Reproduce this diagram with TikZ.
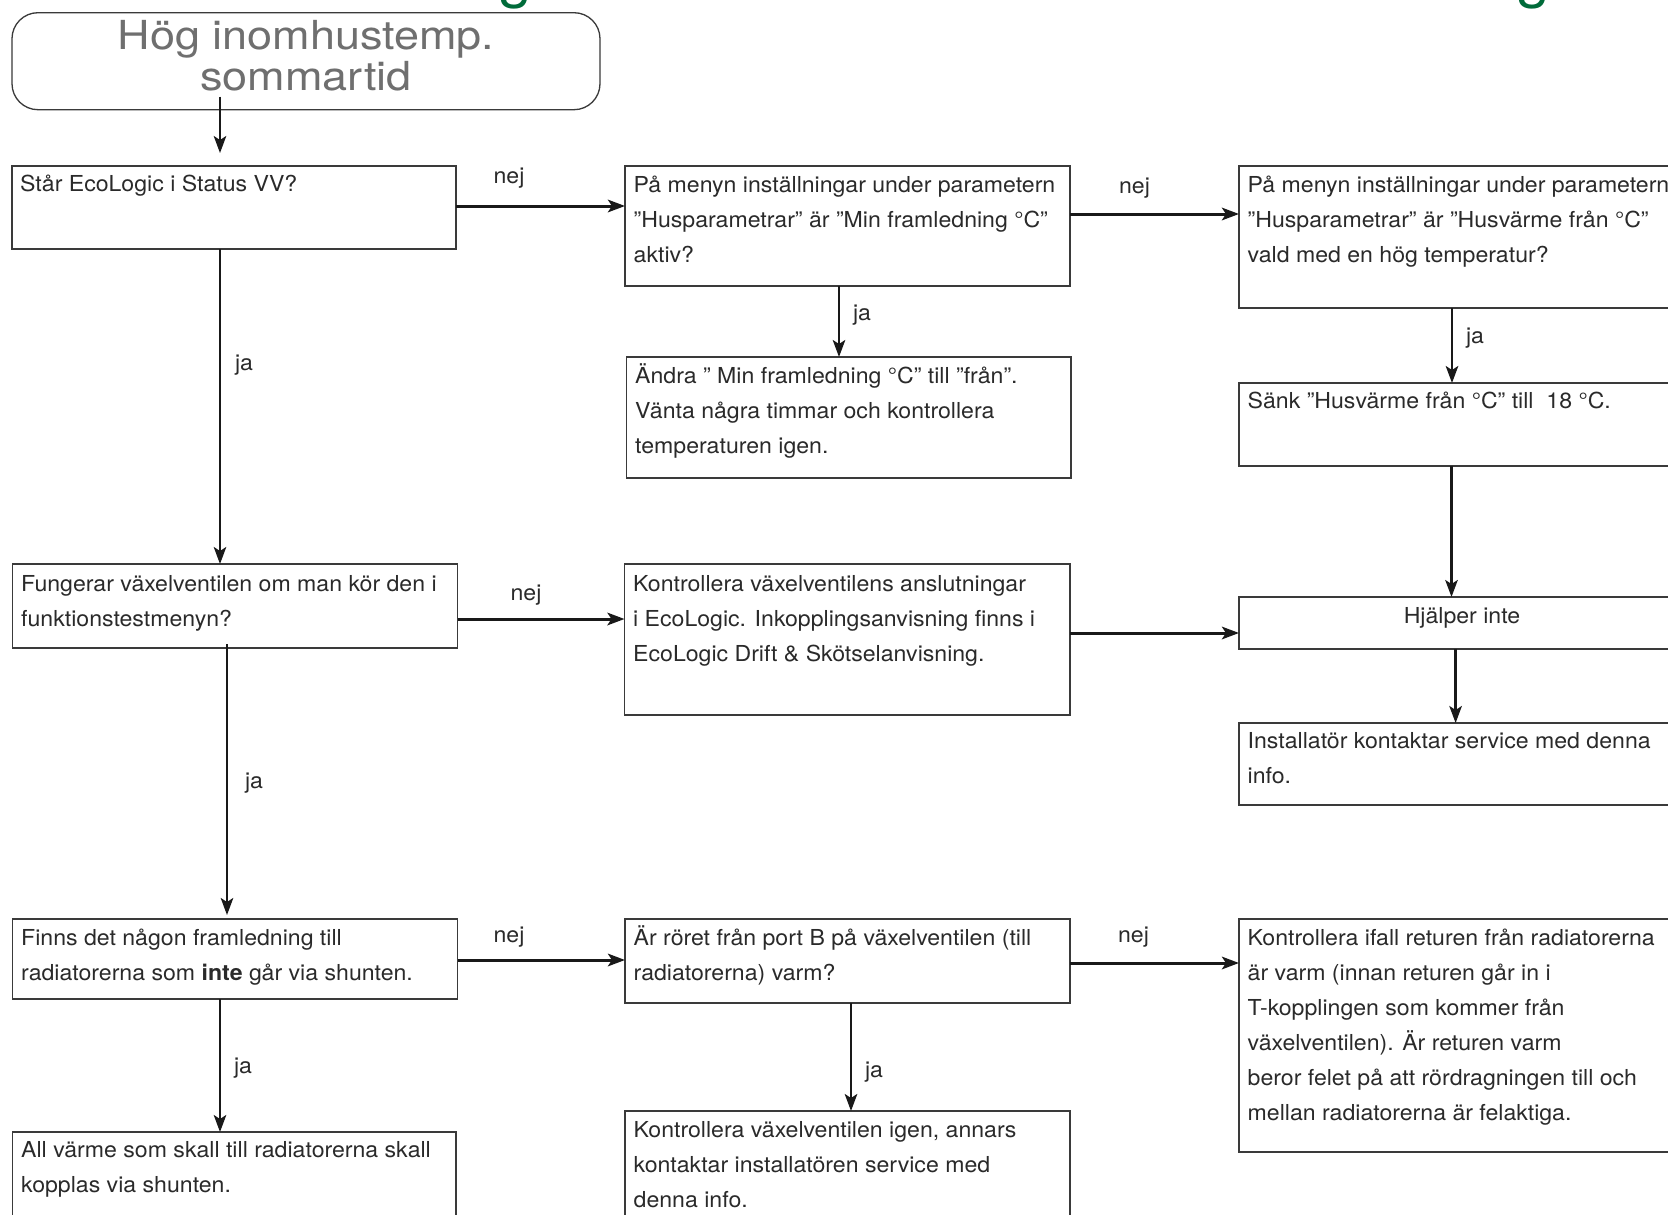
\documentclass[tikz,border=0pt]{standalone}
\usepackage{fontspec}
\setmainfont{TeX Gyre Heros}[FakeStretch=1.05]
\newfontfamily\headfont{TeX Gyre Heros}[FakeStretch=1.125]
\usetikzlibrary{arrows.meta}
\definecolor{boxline}{HTML}{3A3A3A}
\definecolor{txtcol}{HTML}{2A2A2A}
\definecolor{headgray}{HTML}{6F6F6F}
\definecolor{titlegreen}{HTML}{006B3A}
\newcommand{\lines}[1]{\begin{tabular}[t]{@{}l@{}}#1\end{tabular}}
\tikzset{
  box/.style={draw=boxline, line width=1.3pt, inner sep=0pt, outer sep=0pt, anchor=north west},
  txt/.style={anchor=base west, inner sep=0pt, text=txtcol, font=\fontsize{22}{35}\selectfont},
  lbl/.style={anchor=base, inner sep=0pt, text=txtcol, font=\fontsize{22}{35}\selectfont},
  conn/.style={draw=black!90, -{Stealth[length=17pt, width=12.5pt, inset=4pt]}},
  harrow/.style={conn, line width=3pt},
  varrow/.style={conn, line width=2.3pt},
  headtxt/.style={text=headgray, inner sep=0pt, anchor=base, font=\headfont\fontsize{40}{44}\selectfont},
  titletxt/.style={text=titlegreen, inner sep=0pt, anchor=base, font=\fontsize{58}{60}\selectfont},
}
\begin{document}
\begin{tikzpicture}[x=1pt, y=-1pt]
\useasboundingbox (0,0) rectangle (1668,1215);
\clip (0,0) rectangle (1668,1215);
\fill[white] (0,0) rectangle (1668,1215);

% heading letters above the page edge
\node[titletxt] (g1) at (515,-3) {g};
\node[titletxt] (g2) at (1533,-3) {g};

% start box
\node[box, rounded corners=26pt, minimum width=588pt, minimum height=97pt] (S) at (12,12.7) {};
\node[headtxt] (S1) at (306,49.5) {Hög inomhustemp.};
\node[headtxt] (S2) at (306,90.5) {sommartid};

% boxes
\node[box, minimum width=444pt, minimum height=83pt]   (A) at (12,166) {};
\node[box, minimum width=445pt, minimum height=120pt]  (B) at (625,166) {};
\node[box, minimum width=446pt, minimum height=142pt]  (C) at (1239,166) {};
\node[box, minimum width=444.5pt, minimum height=121pt](D) at (626.5,357) {};
\node[box, minimum width=446pt, minimum height=83pt]   (E) at (1239,383) {};
\node[box, minimum width=445pt, minimum height=84pt]   (F) at (12.5,564) {};
\node[box, minimum width=445.5pt, minimum height=151pt](G) at (624.5,564) {};
\node[box, minimum width=446pt, minimum height=52pt]   (H) at (1239,597) {};
\node[box, minimum width=446pt, minimum height=82pt]   (I) at (1239,723) {};
\node[box, minimum width=445pt, minimum height=80pt]   (J) at (12.5,919) {};
\node[box, minimum width=445pt, minimum height=84pt]   (K) at (625,919) {};
\node[box, minimum width=446pt, minimum height=233pt]  (L) at (1239,919) {};
\node[box, minimum width=443.5pt, minimum height=100pt](M) at (12.5,1132) {};
\node[box, minimum width=445pt, minimum height=120pt]  (N) at (625,1111) {};

% box texts
\node[txt] (At) at (20,191) {Står EcoLogic i Status VV?};
\node[txt] (Bt) at (633.5,192) {\lines{På menyn inställningar under parametern\\
  ”Husparametrar” är ”Min framledning °C”\\ aktiv?}};
\node[txt] (Ct) at (1247.5,192) {\lines{På menyn inställningar under parametern\\
  ”Husparametrar” är ”Husvärme från °C”\\ vald med en hög temperatur?}};
\node[txt] (Dt) at (635,383) {\lines{Ändra ” Min framledning °C” till ”från”.\\
  Vänta några timmar och kontrollera\\ temperaturen igen.}};
\node[txt] (Et) at (1247.5,408) {Sänk ”Husvärme från °C” till\ \ 18 °C.};
\node[txt] (Ft) at (21,591) {\lines{Fungerar växelventilen om man kör den i\\ funktionstestmenyn?}};
\node[txt] (Gt) at (633,591) {\lines{Kontrollera växelventilens anslutningar\\
  i EcoLogic. Inkopplingsanvisning finns i\\ EcoLogic Drift \& Skötselanvisning.}};
\node[lbl] (Ht) at (1462,623) {Hjälper inte};
\node[txt] (It) at (1247.5,748) {\lines{Installatör kontaktar service med denna\\ info.}};
\node[txt] (Jt) at (21,945) {\lines{Finns det någon framledning till\\
  radiatorerna som \textbf{inte} går via shunten.}};
\node[txt] (Kt) at (633.5,945) {\lines{Är röret från port B på växelventilen (till\\ radiatorerna) varm?}};
\node[txt] (Lt) at (1247.5,945) {\lines{Kontrollera ifall returen från radiatorerna\\
  är varm (innan returen går in i\\ T-kopplingen som kommer från\\
  växelventilen). Är returen varm\\ beror felet på att rördragningen till och\\
  mellan radiatorerna är felaktiga.}};
\node[txt] (Mt) at (21,1157) {\lines{All värme som skall till radiatorerna skall\\ kopplas via shunten.}};
\node[txt] (Nt) at (633.5,1137) {\lines{Kontrollera växelventilen igen, annars\\
  kontaktar installatören service med\\ denna info.}};

% connectors
\draw[varrow] ([xshift=-86pt,yshift=13pt]S.south) -- ([xshift=-86pt,yshift=13pt]S.south |- A.north);
\draw[harrow] ([yshift=1.5pt]A.east) -- ([yshift=1.5pt]A.east -| B.west);
\draw[varrow] ([xshift=-14pt]A.south) -- ([xshift=-14pt]A.south |- F.north);
\draw[harrow] ([yshift=12pt]B.east) -- ([yshift=12pt]B.east -| C.west);
\draw[varrow] ([xshift=-8.5pt]B.south) -- ([xshift=-8.5pt]B.south |- D.north);
\draw[varrow] ([xshift=-10pt]C.south) -- ([xshift=-10pt]C.south |- E.north);
\draw[varrow] ([xshift=-10.5pt]E.south) -- ([xshift=-10.5pt]E.south |- H.north);
\draw[harrow] ([yshift=-13pt]F.east) -- ([yshift=-13pt]F.east -| G.west);
\draw[varrow] ([xshift=-8pt,yshift=4pt]F.south) -- ([xshift=-8pt,yshift=4pt]F.south |- J.north);
\draw[harrow] ([yshift=6.5pt]G.east) -- ([yshift=6.5pt]G.east -| H.west);
\draw[varrow] ([xshift=-6.4pt]H.south) -- ([xshift=-6.4pt]H.south |- I.north);
\draw[harrow] ([yshift=-1pt]J.east) -- ([yshift=-1pt]J.east -| K.west);
\draw[varrow] ([xshift=-15pt]J.south) -- ([xshift=-15pt]J.south |- M.north);
\draw[harrow] ([yshift=-2pt]K.east) -- ([yshift=-2pt]K.east -| L.west);
\draw[varrow] ([xshift=3.5pt]K.south) -- ([xshift=3.5pt]K.south |- N.north);

% branch labels
\node[lbl] (l1) at (509,183) {nej};
\node[lbl] (l2) at (1134.5,193) {nej};
\node[lbl] (l3) at (526,600) {nej};
\node[lbl] (l4) at (509,942) {nej};
\node[lbl] (l5) at (1133.5,942) {nej};
\node[lbl] (l6) at (244,370) {ja};
\node[lbl] (l7) at (862,320) {ja};
\node[lbl] (l8) at (1475,343) {ja};
\node[lbl] (l9) at (254,788) {ja};
\node[lbl] (l10) at (243,1073) {ja};
\node[lbl] (l11) at (874,1077) {ja};
\end{tikzpicture}
\end{document}
